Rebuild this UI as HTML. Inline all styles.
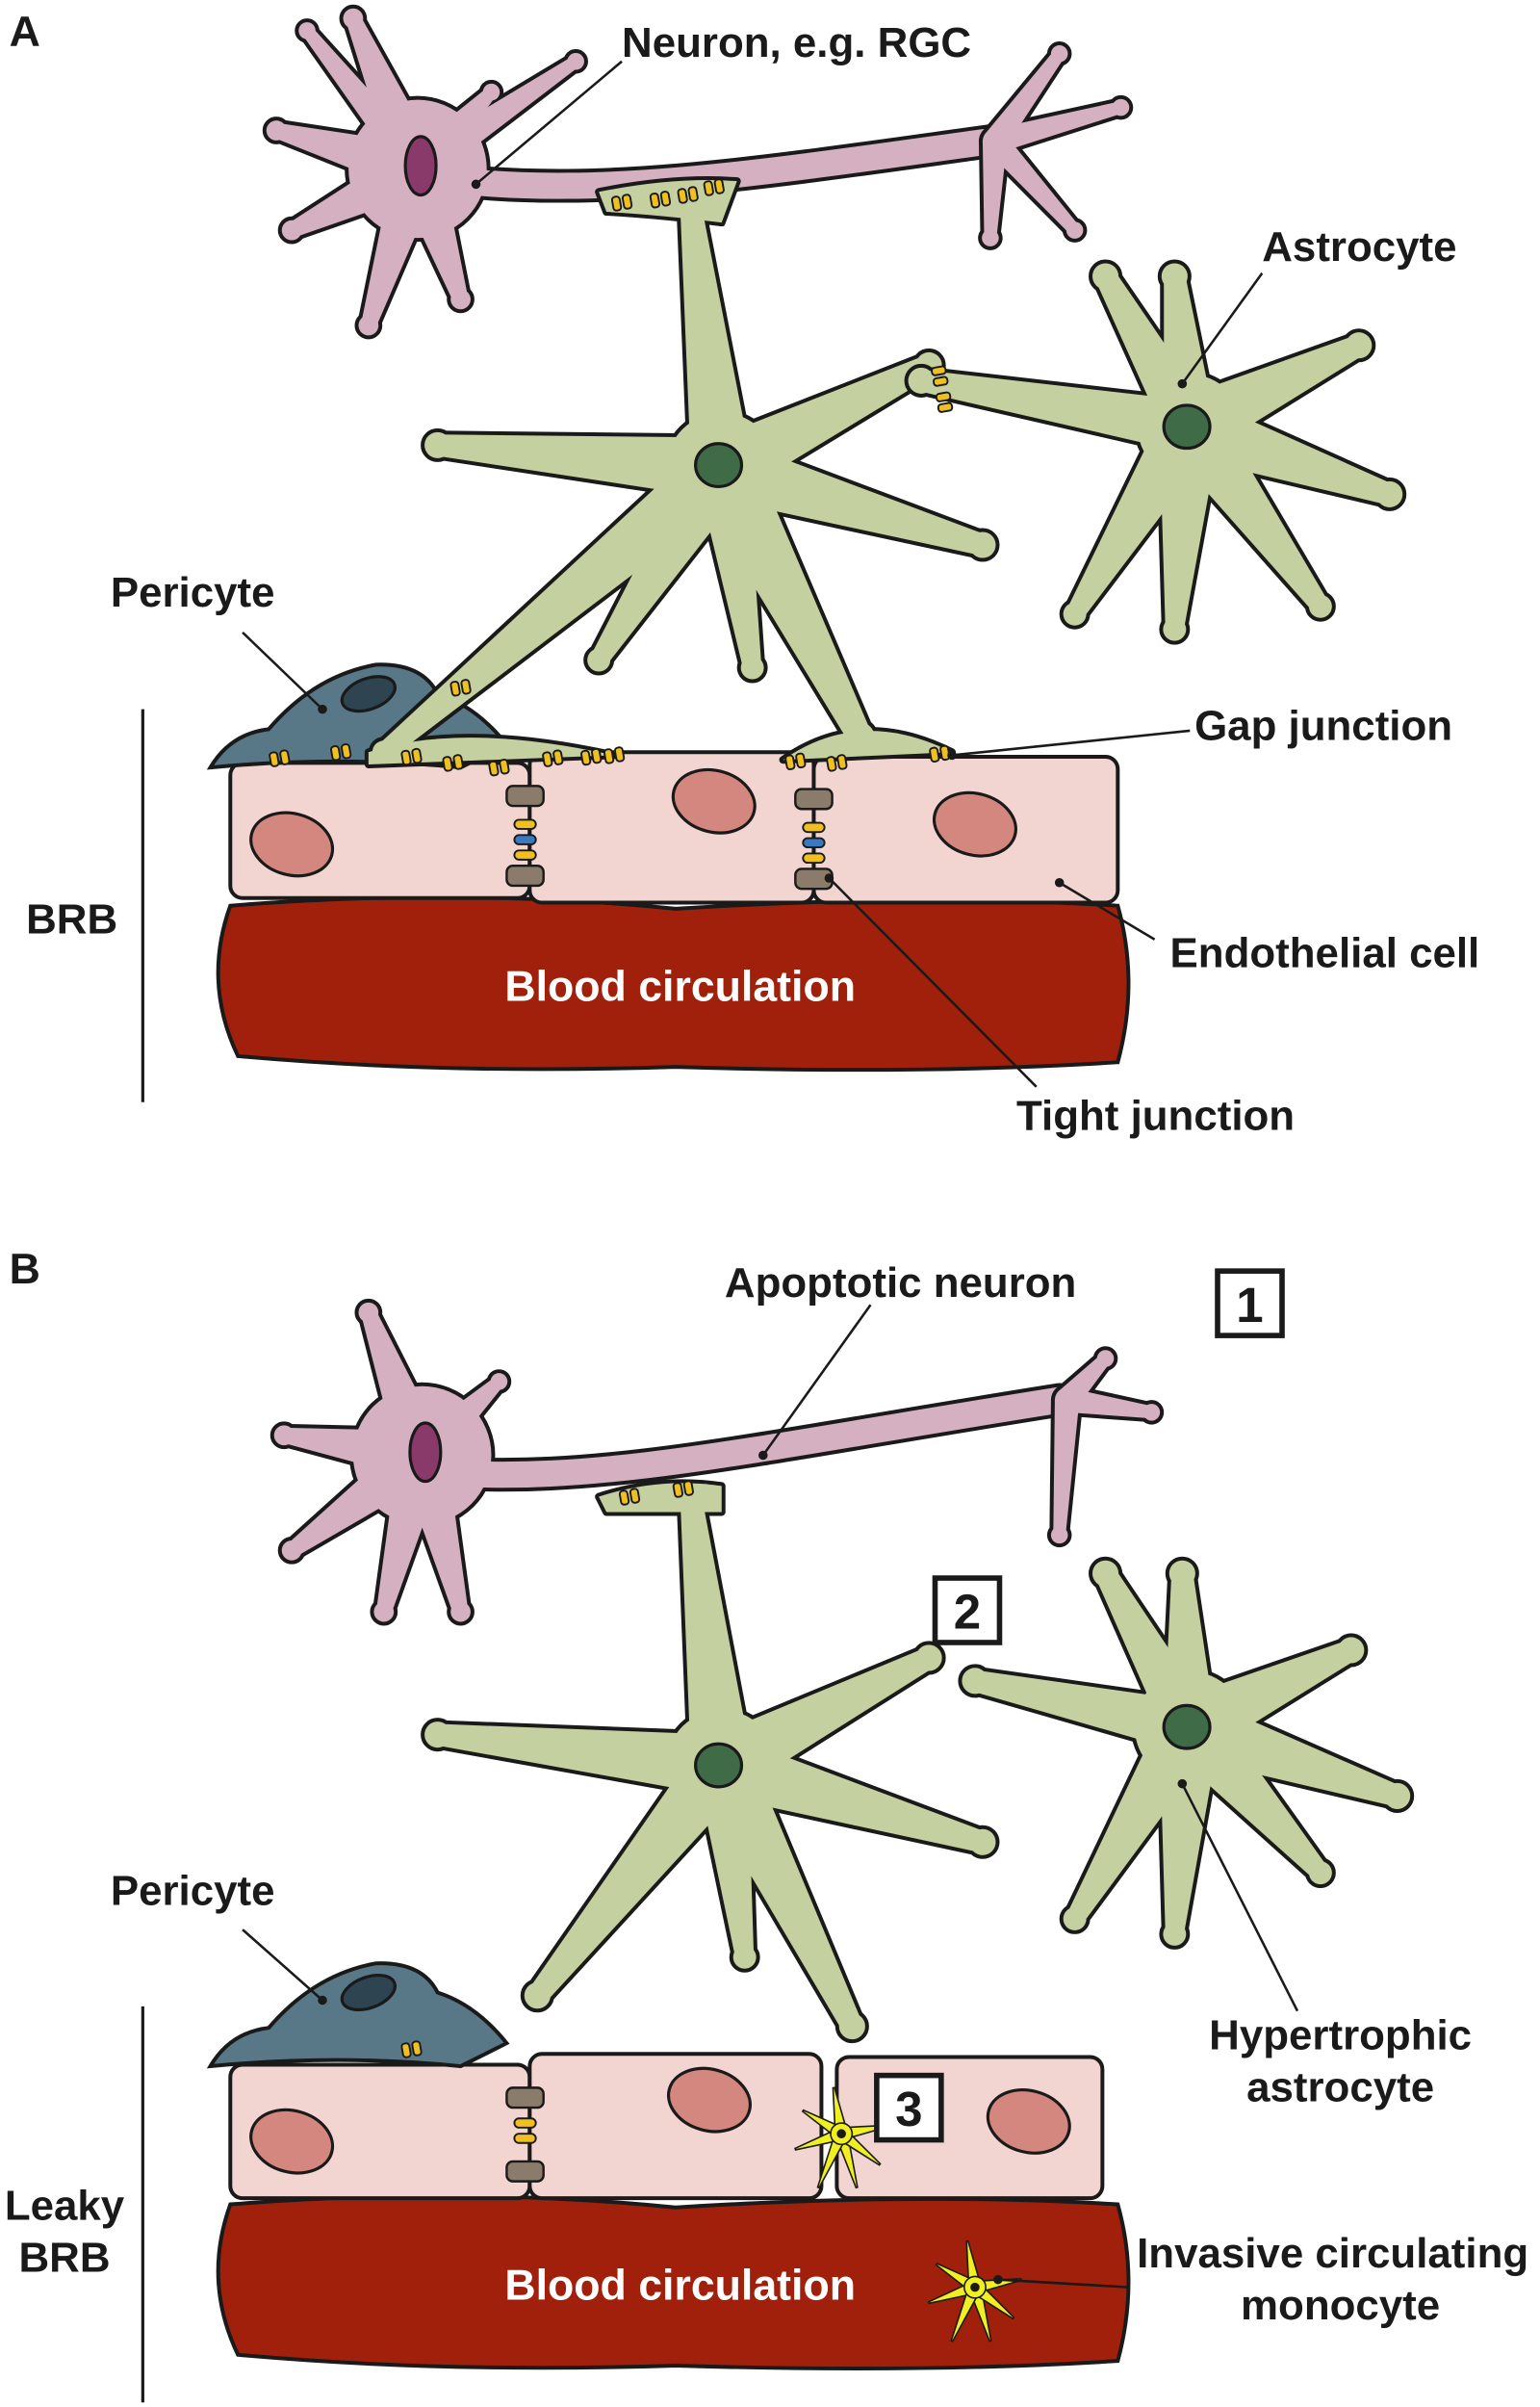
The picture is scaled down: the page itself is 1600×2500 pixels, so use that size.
<!DOCTYPE html>
<html><head><meta charset="utf-8"><style>
html,body{margin:0;padding:0;background:#fff}
svg{display:block}
text{font-family:"Liberation Sans",sans-serif;font-weight:bold;fill:#1a1a1a}
</style></head><body>
<svg id="s" width="1600" height="2500" viewBox="0 0 1003 1568" preserveAspectRatio="none" xmlns="http://www.w3.org/2000/svg">
<rect width="1003" height="1568" fill="#fff"/>
<g id="layer"></g>
<g font-size="27.5">
<text x="6" y="30" font-size="28">A</text>
<text x="6" y="836" font-size="28">B</text>
<text x="405" y="37">Neuron, e.g. RGC</text>
<text x="822" y="170">Astrocyte</text>
<text x="72" y="395">Pericyte</text>
<text x="778" y="482">Gap junction</text>
<text x="762" y="630">Endothelial cell</text>
<text x="662" y="736">Tight junction</text>
<text x="17" y="608">BRB</text>
<text x="472" y="845">Apoptotic neuron</text>
<text x="72" y="1241">Pericyte</text>
<text x="873" y="1335" text-anchor="middle">Hypertrophic</text>
<text x="873" y="1369" text-anchor="middle">astrocyte</text>
<text x="868" y="1477" text-anchor="middle">Invasive circulating</text>
<text x="873" y="1511" text-anchor="middle">monocyte</text>
<text x="42" y="1446" text-anchor="middle">Leaky</text>
<text x="42" y="1480" text-anchor="middle">BRB</text>
<text x="443" y="652" text-anchor="middle" style="fill:#fff" font-size="28">Blood circulation</text>
<text x="443" y="1498" text-anchor="middle" style="fill:#fff" font-size="28">Blood circulation</text>
</g>
<g fill="#fff" stroke="#1a1a1a" stroke-width="3.5">
<rect x="793" y="828" width="42" height="42"/>
<rect x="609" y="1028" width="42" height="42"/>
<rect x="571" y="1352" width="42" height="42"/>
</g>
<g font-size="32"><text x="814" y="861" text-anchor="middle">1</text><text x="630" y="1061" text-anchor="middle">2</text><text x="592" y="1385" text-anchor="middle">3</text></g>
<g stroke="#1a1a1a" stroke-width="1.6" fill="none">
<path d="M405,40 L310,120"/><path d="M822,178 L770,250"/><path d="M158,412 L210,462"/>
<path d="M775,476 L620,492"/><path d="M752,612 L690,575"/><path d="M675,708 L540,572"/>
<path d="M567,850 L497,948"/><path d="M158,1257 L210,1303"/><path d="M845,1310 L770,1162"/>
<path d="M735,1490 L650,1485"/>
<path d="M93,462 L93,718" stroke-width="2"/><path d="M93,1307 L93,1565" stroke-width="2"/>
</g>
<g fill="#1a1a1a"><circle cx="310" cy="120" r="3"/><circle cx="770" cy="250" r="3"/><circle cx="210" cy="462" r="3"/><circle cx="620" cy="492" r="3"/><circle cx="690" cy="575" r="3"/><circle cx="540" cy="572" r="3"/><circle cx="497" cy="948" r="3"/><circle cx="210" cy="1303" r="3"/><circle cx="770" cy="1162" r="3"/><circle cx="650" cy="1485" r="3"/></g>
</svg>
<script>
var NS="http://www.w3.org/2000/svg",L=document.getElementById('layer'),T=document.querySelector('#s g[font-size="27.5"]');
function el(t,a,p){var e=document.createElementNS(NS,t);for(var k in a)e.setAttribute(k,a[k]);(p||L).appendChild(e);return e;}
function armPts(cx,cy,tx,ty,w,tw){var dx=tx-cx,dy=ty-cy,l=Math.hypot(dx,dy),px=-dy/l,py=dx/l;
return [cx+px*w,cy+py*w,tx+px*tw,ty+py*tw,tx-px*tw,ty-py*tw,cx-px*w,cy-py*w].join(',');}
function cell(cx,cy,r,arms,fill,extra){
 var g=el('g',{});var o=el('g',{stroke:'#1a1a1a','stroke-width':5,'stroke-linejoin':'round',fill:'#1a1a1a'},g);
 var f=el('g',{fill:fill},g);
 [o,f].forEach(function(p){
  el('circle',{cx:cx,cy:cy,r:r},p);
  arms.forEach(function(a){el('polygon',{points:armPts(cx,cy,a[0],a[1],a[2]||14,a[3]||4)},p);
   el('circle',{cx:a[0],cy:a[1],r:(a[3]||4)+1.5},p);});
  (extra||[]).forEach(function(e){el(e[0],e[1],p);});
 });
 return g;}
function gj(x,y,rot){var g=el('g',{transform:'translate('+x+','+y+') rotate('+(rot||0)+')'});
 el('rect',{x:-6,y:-4.5,width:5,height:9,rx:2,fill:'#f0c020',stroke:'#1a1a1a','stroke-width':1.2},g);
 el('rect',{x:1,y:-4.5,width:5,height:9,rx:2,fill:'#f0c020',stroke:'#1a1a1a','stroke-width':1.2},g);}
function tj(x,y){var g=el('g',{});
 el('rect',{x:x-12,y:y,width:24,height:13,rx:4,fill:'#8a7b6b',stroke:'#1a1a1a','stroke-width':1.5},g);
 [[y+22,'#f0c020'],[y+32,'#3a78c0'],[y+42,'#f0c020']].forEach(function(q){el('rect',{x:x-7,y:q[0],width:14,height:6,rx:3,fill:q[1],stroke:'#1a1a1a','stroke-width':1.2},g);});
 el('rect',{x:x-12,y:y+52,width:24,height:13,rx:4,fill:'#8a7b6b',stroke:'#1a1a1a','stroke-width':1.5},g);}
function panel(dy,B){
 el('path',{d:'M150,'+(590+dy)+' Q300,'+(578+dy)+' 440,'+(592+dy)+' Q600,'+(582+dy)+' 728,'+(590+dy)+' Q742,'+(640+dy)+' 728,'+(692+dy)+' Q600,'+(700+dy)+' 440,'+(695+dy)+' Q290,'+(700+dy)+' 155,'+(688+dy)+' Q132,'+(640+dy)+' 150,'+(590+dy)+'Z',fill:'#a0200c',stroke:'#1a1a1a','stroke-width':2.5});
 var e=B?[[150,1345,345,1432],[345,1338,535,1432],[545,1340,718,1432]]:[[150,497,345,585],[345,490,530,588],[530,493,728,588]];
 e.forEach(function(c){el('rect',{x:c[0],y:c[1],width:c[2]-c[0],height:c[3]-c[1],rx:8,fill:'#f2d4d0',stroke:'#1a1a1a','stroke-width':2.5});});
 var n=B?[[190,1395],[462,1368],[670,1382]]:[[190,550],[465,522],[635,537]];
 n.forEach(function(c){el('ellipse',{cx:c[0],cy:c[1],rx:27,ry:20,fill:'#d4877f',stroke:'#1a1a1a','stroke-width':2,transform:'rotate(15 '+c[0]+' '+c[1]+')'});});
 var py=B?846:0;
 el('path',{d:'M137,'+(500+py)+' Q150,'+(478+py)+' 175,'+(475+py)+' Q205,'+(440+py)+' 245,'+(433+py)+' Q275,'+(432+py)+' 285,'+(452+py)+' Q310,'+(460+py)+' 330,'+(485+py)+' L300,'+(500+py)+' Q220,'+(492+py)+' 137,'+(500+py)+'Z',fill:'#587888',stroke:'#1a1a1a','stroke-width':2.5});
 el('ellipse',{cx:240,cy:452+py,rx:18,ry:10,fill:'#2e4450',stroke:'#1a1a1a','stroke-width':2,transform:'rotate(-20 240 '+(452+py)+')'});
}
panel(0,false);panel(846,true);
function neuron(cx,cy,dends,axon,term){
 el('path',{d:axon,stroke:'#1a1a1a','stroke-width':22,fill:'none','stroke-linecap':'round'});
 cell(cx,cy,45,dends,'#d4b0c0');
 el('path',{d:axon,stroke:'#d4b0c0','stroke-width':17,fill:'none','stroke-linecap':'round'});
 cell(term[0],term[1],8,term[2],'#d4b0c0');
 el('ellipse',{cx:cx+2,cy:cy-2,rx:10,ry:19,fill:'#8a3a6a',stroke:'#1a1a1a','stroke-width':2});
}
neuron(272,110,[[230,12,16,5],[180,85,16,5],[190,150,16,5],[240,212,16,5],[300,195,16,5],[320,60,13,4],[375,40,11,4],[200,20,11,4]],'M300,118 C400,128 500,112 645,92',[648,92,[[690,35,8,4],[730,70,8,4],[645,155,8,4],[700,150,8,4]]]);
neuron(275,948,[[240,855,16,5],[185,935,16,5],[190,1010,16,5],[250,1050,16,5],[300,1050,16,5],[325,900,13,4]],'M300,960 C400,965 500,942 690,912',[695,912,[[750,920,8,4],[720,885,8,4],[690,1000,8,4]]]);
cell(470,305,36,[[450,135,20,7],[285,290,20,7],[605,238,20,7],[640,355,20,7],[490,435,17,6],[390,430,20,6],[560,480,22,8],[250,490,20,6]],'#c5d0a0',[['path',{d:'M390,125 Q440,115 480,118 L470,145 Q430,140 395,138Z'}],['path',{d:'M240,490 Q300,470 400,492 L240,498Z'}],['path',{d:'M510,495 Q560,460 620,490Z'}]]);
cell(775,278,34,[[720,180,17,7],[765,180,17,7],[885,225,20,7],[600,248,17,7],[700,400,20,6],[765,410,20,6],[860,395,20,6],[905,322,20,7]],'#c5d0a0');
cell(470,1150,36,[[450,975,20,7],[285,1130,20,7],[605,1080,20,7],[640,1200,20,7],[485,1275,17,6],[350,1300,20,7],[555,1320,20,7]],'#c5d0a0',[['path',{d:'M390,975 Q430,962 470,968 L470,985 Q430,985 395,985Z'}]]);
cell(775,1125,36,[[720,1025,17,7],[770,1025,17,7],[880,1075,20,7],[635,1095,17,7],[700,1250,20,6],[765,1260,20,6],[860,1220,20,6],[910,1170,20,7]],'#c5d0a0');
[[468,303],[773,278],[468,1150],[773,1125]].forEach(function(c){el('ellipse',{cx:c[0],cy:c[1],rx:15,ry:14,fill:'#3f6b47',stroke:'#1a1a1a','stroke-width':2});});
[[182,494],[222,490],[268,493],[295,497],[325,500],[360,494],[385,493],[400,492],[518,496],[545,497],[612,491],[300,448],[405,132],[430,130],[448,127],[465,122],[612,245,80],[615,262,80],[268,1335],[410,975],[445,970]].forEach(function(c){gj(c[0],c[1],c[2]||-10);});
tj(342,512);tj(530,514);
el('rect',{x:330,y:1360,width:24,height:13,rx:4,fill:'#8a7b6b',stroke:'#1a1a1a','stroke-width':1.5});
[1380,1390].forEach(function(y){el('rect',{x:335,y:y,width:14,height:6,rx:3,fill:'#f0c020',stroke:'#1a1a1a','stroke-width':1.2});});
el('rect',{x:330,y:1408,width:24,height:13,rx:4,fill:'#8a7b6b',stroke:'#1a1a1a','stroke-width':1.5});
function mono(x,y){var g=el('g',{stroke:'#1a1a1a','stroke-width':1,fill:'#f0f020'});
 [[-30,10],[30,-5],[-5,-30],[10,35],[-25,-15],[25,20],[-15,35]].forEach(function(a){el('polygon',{points:armPts(x,y,x+a[0],y+a[1],4,0.5)},g);});
 el('circle',{cx:x,cy:y,r:7},g);el('circle',{cx:x,cy:y,r:2.5,fill:'#1a1a1a'},g);}
mono(548,1390);mono(635,1490);
L.parentNode.appendChild(T);
</script>
</body></html>
